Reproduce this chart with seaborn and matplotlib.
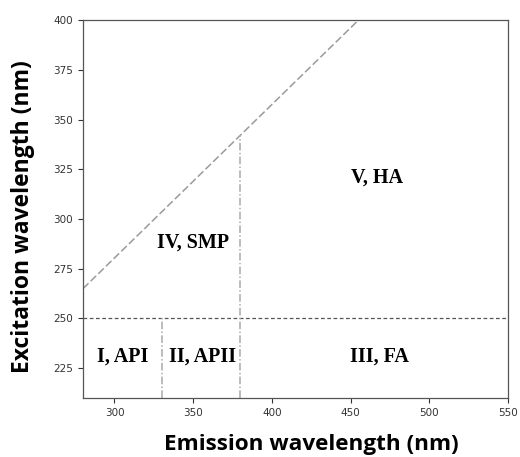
import matplotlib
matplotlib.use("Agg")
import matplotlib.pyplot as plt
import seaborn as sns
import pandas as pd

# Data
diag_x = [280, 455]
diag_y = [265, 400]
h_x = [280, 550]
h_y = [250, 250]
v1_x = [330, 330]
v1_y = [210, 250]
v2_x = [380, 380]
v2_y = [210, 342]
region_labels = ["I, API", "II, APII", "III, FA", "IV, SMP", "V, HA"]
region_x = [305, 356, 468, 350, 467]
region_y = [231, 231, 231, 288, 321]
x_ticks = [300, 350, 400, 450, 500, 550]
y_ticks = [225, 250, 275, 300, 325, 350, 375, 400]

sns.set_style("ticks")
fig = plt.figure(figsize=(5.2, 4.57), dpi=100)
ax = fig.add_axes([0.1596, 0.129, 0.8174, 0.827])

kw = dict(ax=ax, estimator=None, sort=False, errorbar=None)
sns.lineplot(x=diag_x, y=diag_y, color="#9a9a9a", lw=1.1, linestyle=(0, (5, 2)), **kw)
sns.lineplot(x=h_x, y=h_y, color="#555555", lw=0.9, linestyle=(0, (3, 2)), **kw)
sns.lineplot(x=v1_x, y=v1_y, color="#aaaaaa", lw=1.1, linestyle=(0, (5, 1.5, 1, 1.5)), **kw)
sns.lineplot(x=v2_x, y=v2_y, color="#aaaaaa", lw=1.1, linestyle=(0, (5, 1.5, 1, 1.5)), **kw)

for lab, x, y in zip(region_labels, region_x, region_y):
    ax.text(x, y, lab, ha="center", va="center", fontsize=14.5,
            fontweight="bold", family="Liberation Serif", color="black")

ax.set_xlim(280, 550)
ax.set_ylim(210, 400)
ax.set_xticks(x_ticks)
ax.set_yticks(y_ticks)
ax.tick_params(labelsize=7.5, labelcolor="#333333", length=3.5, width=0.8, color="#333333")
for s in ax.spines.values():
    s.set_color("#555555")
    s.set_linewidth(0.9)

ax.set_xlabel("Emission wavelength (nm)", fontsize=16.2, fontweight="bold",
              family="Open Sans", color="black")
ax.set_ylabel("Excitation wavelength (nm)", fontsize=16.5, fontweight="bold",
              family="Open Sans", color="black")
ax.xaxis.set_label_coords(0.536, -0.094)
ax.yaxis.set_label_coords(-0.113, 0.479)

fig.savefig("out.png", dpi=100)
